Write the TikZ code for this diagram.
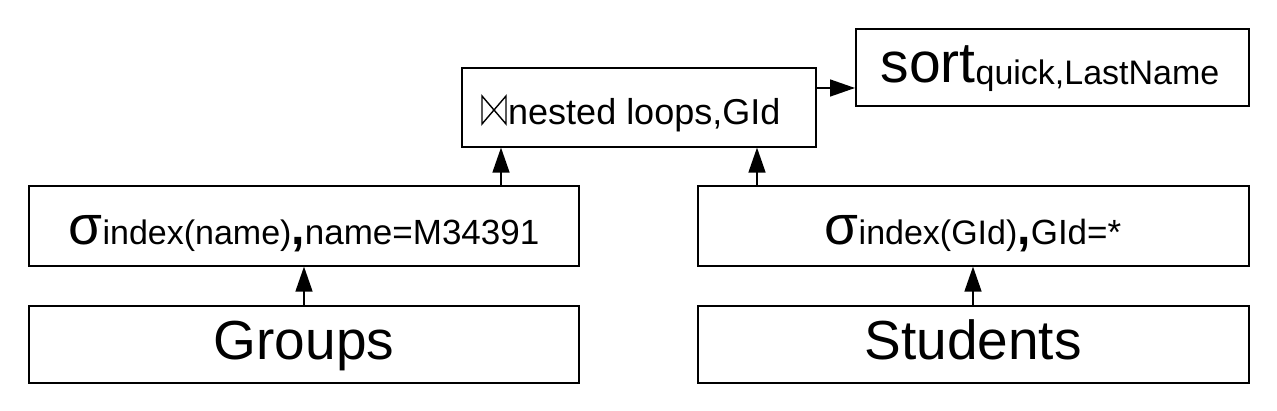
\documentclass[tikz,border=0pt]{standalone}
\usepackage{fontspec}
\setmainfont{Liberation Sans}
\usetikzlibrary{arrows.meta}
\begin{document}
\begin{tikzpicture}[x=1pt,y=-1pt,
  box/.style={draw,line width=1.6pt,inner sep=0pt,anchor=north west},
  conn/.style={line width=1.5pt,-{Triangle[length=25pt,width=17pt]}},
  lbl/.style={inner sep=0pt,anchor=base},
  big/.style={lbl,font=\fontsize{55}{60}\selectfont}]
\useasboundingbox (0,0) rectangle (1277,411);
\node[box,minimum width=354pt,minimum height=79pt] (join) at (461,67) {};
\draw[line width=1.4pt,line join=miter] (482,124) -- (482,96) -- (506,124) -- (506,96) -- cycle;
\node[lbl,anchor=base west] (jt) at (508,125) {\fontsize{36}{40}\selectfont nested loops,GId};
\node[box,minimum width=393pt,minimum height=77pt] (sort) at (855,28) {};
\node[lbl] (st) at (1050,83) {\fontsize{57}{60}\selectfont sort\fontsize{34}{40}\selectfont\raisebox{-2pt}{quick,LastName}};
\node[box,minimum width=550pt,minimum height=80pt] (sl) at (28,185) {};
\node[lbl] (slt) at (304,245) {\fontsize{55}{60}\selectfont σ\fontsize{34}{40}\selectfont index(name)\fontsize{48}{50}\selectfont\textbf{,}\fontsize{35}{40}\selectfont name=M34391};
\node[box,minimum width=551pt,minimum height=80pt] (sr) at (697,185) {};
\node[lbl] (srt) at (973,245) {\fontsize{55}{60}\selectfont σ\fontsize{34}{40}\selectfont index(GId)\fontsize{48}{50}\selectfont\textbf{,}\fontsize{35}{40}\selectfont GId=*};
\node[box,minimum width=550pt,minimum height=77pt] (g) at (28,305) {};
\node[big] (gt) at (304,360) {Groups};
\node[box,minimum width=551pt,minimum height=77pt] (s) at (697,305) {};
\node[big] (stt) at (973,360) {Students};
\draw[conn] (g.north -| 304,0) -- (sl.south -| 304,0);
\draw[conn] (s.north -| 973,0) -- (sr.south -| 973,0);
\draw[conn] (sl.north -| 501,0) -- (join.south -| 501,0);
\draw[conn] (sr.north -| 757,0) -- (join.south -| 757,0);
\draw[conn] (join.east |- 0,88) -- (sort.west |- 0,88);
\end{tikzpicture}
\end{document}
